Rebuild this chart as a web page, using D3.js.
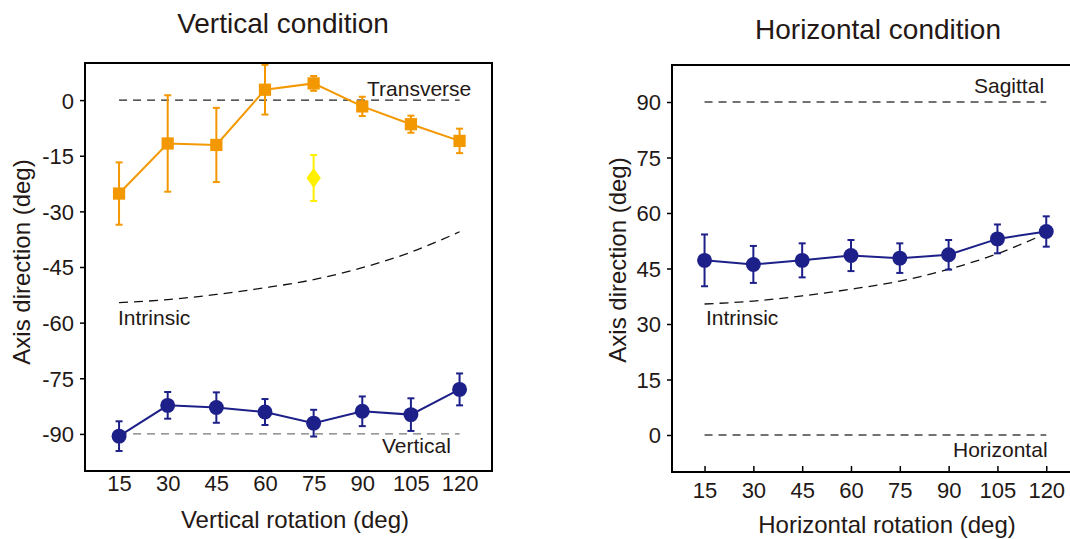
<!DOCTYPE html>
<html>
<head>
<meta charset="utf-8">
<script src="https://cdn.jsdelivr.net/npm/d3@7"></script>
<style>
  body { margin: 0; background: #fff; }
  svg text { font-family: "Liberation Sans", Arial, sans-serif; fill: #231815; }
</style>
</head>
<body>
<svg id="chart" width="1070" height="539"></svg>
<script>
// rotation angles (deg), shared by both panels
var rotations = [15, 30, 45, 60, 75, 90, 105, 120];
var xTicks = [15, 30, 45, 60, 75, 90, 105, 120];

// vertical condition
var vertTransverse = [-25.2, -11.7, -12.1, 2.8, 4.5, -1.7, -6.5, -11];
var vertTransverseErr = [8.4, 13, 10, 6.7, 2, 2.6, 2.3, 3.3];
var vertExtraX = [75];
var vertExtra = [-21];
var vertExtraErr = [6.2];
var vertVertical = [-90.6, -82.3, -82.9, -84.1, -87.1, -83.9, -84.8, -78];
var vertVerticalErr = [4, 3.6, 4.1, 3.5, 3.6, 4, 4.4, 4.3];
var vertIntrinsic = [-54.6, -53.8, -52.4, -50.6, -48.4, -45.2, -41, -35.5];
var vertYTicks = [0, -15, -30, -45, -60, -75, -90];

// horizontal condition
var horizMeans = [47.2, 46.1, 47.2, 48.5, 47.8, 48.7, 53, 55];
var horizErr = [7, 5, 4.6, 4.2, 4, 4, 3.9, 4.1];
var horizIntrinsic = [35.4, 36.2, 37.6, 39.4, 41.6, 44.8, 49, 54.5];
var horizYTicks = [90, 75, 60, 45, 30, 15, 0];

var orange = "#f39800", yellow = "#fff000", navy = "#1d2088";

var svg = d3.select("#chart");

function zip(xs, ys, es) {
  return xs.map(function(x, i){ return {x: x, y: ys[i], e: es ? es[i] : 0}; });
}

function dashedRef(g, x, y, x0, x1, val, color) {
  g.append("line")
    .attr("x1", x(x0)).attr("x2", x(x1))
    .attr("y1", y(val)).attr("y2", y(val))
    .attr("stroke", color).attr("stroke-width", 1.3)
    .attr("stroke-dasharray", "8,6");
}

function dashedCurve(g, x, y, vals) {
  var line = d3.line().x(function(d){ return x(d.x); }).y(function(d){ return y(d.y); })
    .curve(d3.curveMonotoneX);
  g.append("path").datum(zip(rotations, vals))
    .attr("d", line).attr("fill", "none")
    .attr("stroke", "#111").attr("stroke-width", 1.3)
    .attr("stroke-dasharray", "9,6");
}

function series(g, x, y, pts, color, shape) {
  var line = d3.line().x(function(d){ return x(d.x); }).y(function(d){ return y(d.y); });
  if (pts.length > 1) {
    g.append("path").datum(pts).attr("d", line)
      .attr("fill", "none").attr("stroke", color).attr("stroke-width", 2);
  }
  var eb = g.append("g").attr("stroke", color).attr("stroke-width", 2);
  pts.forEach(function(d){
    eb.append("line").attr("x1", x(d.x)).attr("x2", x(d.x))
      .attr("y1", y(d.y - d.e)).attr("y2", y(d.y + d.e));
    [d.y - d.e, d.y + d.e].forEach(function(v){
      eb.append("line").attr("x1", x(d.x) - 3.5).attr("x2", x(d.x) + 3.5)
        .attr("y1", y(v)).attr("y2", y(v));
    });
  });
  var sym = shape == "square" ? d3.symbolSquare : shape == "diamond" ? d3.symbolDiamond : d3.symbolCircle;
  var size = shape == "square" ? 150 : shape == "diamond" ? 115 : 175;
  g.selectAll(null).data(pts).enter().append("path")
    .attr("d", d3.symbol().type(sym).size(size))
    .attr("transform", function(d){
      return "translate(" + x(d.x) + "," + y(d.y) + ")" + (shape == "diamond" ? " scale(1.25,1)" : "");
    })
    .attr("fill", color);
}

function yAxis(g, x0, y, ticks) {
  var ax = g.append("g").attr("transform", "translate(" + x0 + ",0)")
    .call(d3.axisLeft(y).tickValues(ticks).tickSize(5).tickPadding(6)
      .tickFormat(function(d){ return String(d); }));
  ax.select(".domain").remove();
  ax.selectAll(".tick line").attr("stroke", "#000").attr("stroke-width", 1.5);
  ax.selectAll(".tick text").style("font-size", "22px").attr("dy", "0.36em")
    .attr("font-family", null);
}

function xAxis(g, y0, x, ticks, inwardTicks) {
  var ax = g.append("g").attr("transform", "translate(0," + y0 + ")")
    .call(d3.axisBottom(x).tickValues(ticks).tickSize(inwardTicks ? -6 : 0).tickPadding(inwardTicks ? 10 : 4));
  ax.select(".domain").remove();
  ax.selectAll(".tick line").attr("stroke", "#000").attr("stroke-width", 1.5);
  ax.selectAll(".tick text").style("font-size", "22px").attr("font-family", null);
}

// ---------- left panel: vertical condition ----------
var xL = d3.scaleLinear().domain([4.5, 130]).range([85, 492]);
var yL = d3.scaleLinear().domain([-100, 10]).range([471, 63]);
var gL = svg.append("g");

dashedRef(gL, xL, yL, 15, 120, 0, "#222");
dashedRef(gL, xL, yL, 15, 120, -90, "#777");
dashedCurve(gL, xL, yL, vertIntrinsic);

series(gL, xL, yL, zip(rotations, vertTransverse, vertTransverseErr), orange, "square");
series(gL, xL, yL, zip(vertExtraX, vertExtra, vertExtraErr), yellow, "diamond");
series(gL, xL, yL, zip(rotations, vertVertical, vertVerticalErr), navy, "circle");

gL.append("rect").attr("x", 85).attr("y", 63).attr("width", 407).attr("height", 408)
  .attr("fill", "none").attr("stroke", "#000").attr("stroke-width", 2);
yAxis(gL, 85, yL, vertYTicks);
xAxis(gL, 471, xL, xTicks, false);

gL.append("text").attr("x", 367).attr("y", 96).style("font-size", "21px").text("Transverse");
gL.append("text").attr("x", 118).attr("y", 325).style("font-size", "21px").text("Intrinsic");
gL.append("text").attr("x", 382).attr("y", 453).style("font-size", "21px").text("Vertical");

svg.append("text").attr("x", 283).attr("y", 33).attr("text-anchor", "middle")
  .style("font-size", "28px").text("Vertical condition");
svg.append("text").attr("x", 295).attr("y", 528).attr("text-anchor", "middle")
  .style("font-size", "24px").text("Vertical rotation (deg)");
svg.append("text").attr("transform", "translate(30,262) rotate(-90)").attr("text-anchor", "middle")
  .style("font-size", "24px").text("Axis direction (deg)");

// ---------- right panel: horizontal condition ----------
var xR = d3.scaleLinear().domain([5, 130]).range([672, 1078.8]);
var yR = d3.scaleLinear().domain([-10, 100]).range([472, 65]);
var gR = svg.append("g");

dashedRef(gR, xR, yR, 15, 120, 90, "#444");
dashedRef(gR, xR, yR, 15, 120, 0, "#444");
dashedCurve(gR, xR, yR, horizIntrinsic);

series(gR, xR, yR, zip(rotations, horizMeans, horizErr), navy, "circle");

gR.append("path").attr("d", "M1080,65H672V472H1080")
  .attr("fill", "none").attr("stroke", "#000").attr("stroke-width", 2);
yAxis(gR, 672, yR, horizYTicks);
xAxis(gR, 472, xR, xTicks, true);

gR.append("text").attr("x", 974).attr("y", 93).style("font-size", "21px").text("Sagittal");
gR.append("text").attr("x", 706).attr("y", 325).style("font-size", "21px").text("Intrinsic");
gR.append("text").attr("x", 953).attr("y", 457).style("font-size", "21px").text("Horizontal");

svg.append("text").attr("x", 878).attr("y", 39).attr("text-anchor", "middle")
  .style("font-size", "28px").text("Horizontal condition");
svg.append("text").attr("x", 887).attr("y", 533).attr("text-anchor", "middle")
  .style("font-size", "24px").text("Horizontal rotation (deg)");
svg.append("text").attr("transform", "translate(626,260) rotate(-90)").attr("text-anchor", "middle")
  .style("font-size", "24px").text("Axis direction (deg)");
</script>
</body>
</html>
